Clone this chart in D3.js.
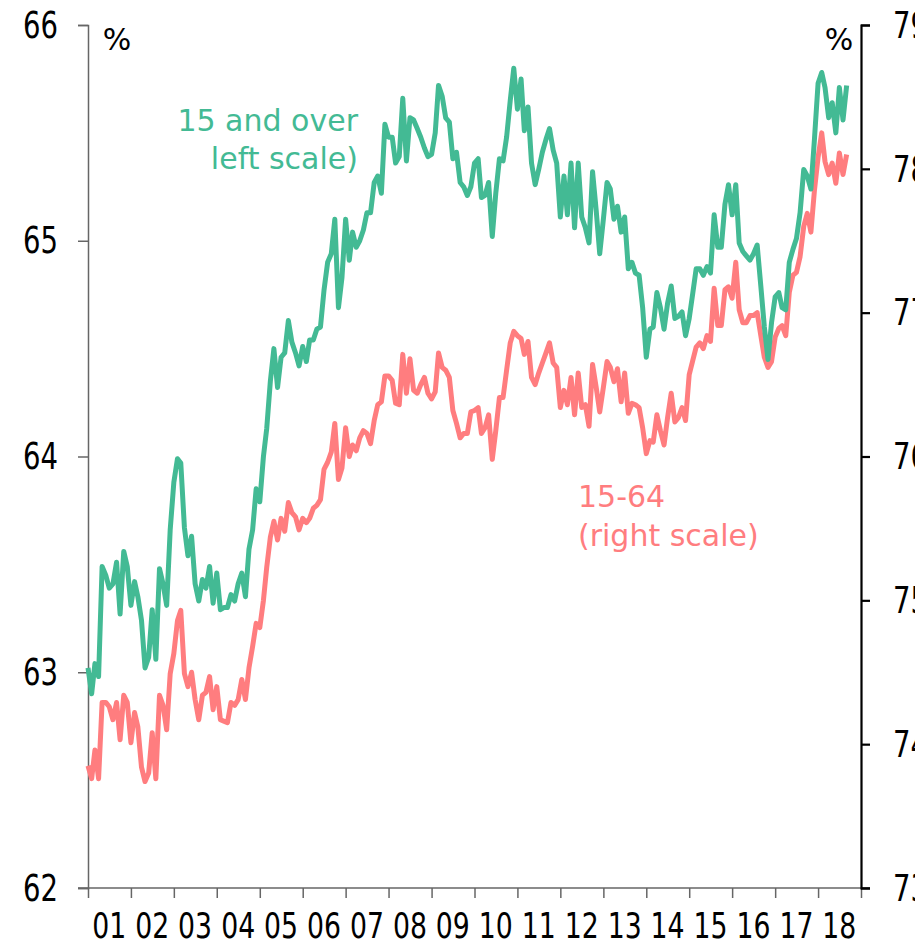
<!DOCTYPE html>
<html>
<head>
<meta charset="utf-8">
<script src="https://cdn.jsdelivr.net/npm/d3@7"></script>
<style>
  body { margin: 0; background: #fff; }
  svg { display: block; }
</style>
</head>
<body>
<div id="chart"></div>
<script>
// Employment rate, monthly from Jan 2001
var yearLabels = ["01", "02", "03", "04", "05", "06", "07", "08", "09",
  "10", "11", "12", "13", "14", "15", "16", "17", "18"];

// 15 and over (left scale, %)
var over15 = [
  63.02, 62.90, 63.04, 62.98, 63.49, 63.45, 63.39, 63.41, 63.51, 63.27, 63.56, 63.49,
  63.31, 63.42, 63.35, 63.24, 63.02, 63.07, 63.29, 63.06, 63.48, 63.41, 63.31, 63.66,
  63.88, 63.99, 63.97, 63.67, 63.54, 63.63, 63.41, 63.33, 63.43, 63.39, 63.49, 63.32,
  63.46, 63.29, 63.30, 63.30, 63.36, 63.33, 63.41, 63.46, 63.35, 63.57, 63.66, 63.85,
  63.79, 64.00, 64.13, 64.35, 64.50, 64.32, 64.46, 64.48, 64.63, 64.53, 64.48, 64.42,
  64.51, 64.44, 64.54, 64.54, 64.59, 64.60, 64.77, 64.90, 64.94, 65.10, 64.69, 64.83,
  65.10, 64.91, 65.04, 64.97, 65.00, 65.05, 65.13, 65.13, 65.27, 65.30, 65.22, 65.54,
  65.48, 65.48, 65.36, 65.39, 65.66, 65.37, 65.57, 65.56, 65.52, 65.48, 65.43, 65.39,
  65.40, 65.50, 65.72, 65.67, 65.57, 65.55, 65.38, 65.41, 65.27, 65.25, 65.21, 65.25,
  65.36, 65.38, 65.20, 65.21, 65.27, 65.02, 65.22, 65.38, 65.37, 65.48, 65.65, 65.80,
  65.61, 65.75, 65.51, 65.62, 65.36, 65.26, 65.33, 65.41, 65.47, 65.52, 65.42, 65.36,
  65.11, 65.30, 65.12, 65.36, 65.06, 65.36, 65.11, 65.06, 64.99, 65.32, 65.14, 64.94,
  65.10, 65.27, 65.24, 65.10, 65.16, 65.04, 65.11, 64.87, 64.90, 64.85, 64.84, 64.69,
  64.46, 64.59, 64.60, 64.76, 64.69, 64.59, 64.71, 64.79, 64.64, 64.65, 64.67, 64.56,
  64.64, 64.76, 64.87, 64.87, 64.84, 64.88, 64.85, 65.12, 64.97, 64.97, 65.17, 65.26,
  65.12, 65.26, 64.99, 64.95, 64.93, 64.91, 64.94, 64.98, 64.79, 64.60, 64.45, 64.62,
  64.74, 64.76, 64.69, 64.68, 64.90, 64.96, 65.01, 65.13, 65.33, 65.30, 65.24, 65.47,
  65.73, 65.78, 65.71, 65.57, 65.64, 65.50, 65.71, 65.56, 65.72
];

// 15-64 (right scale, %)
var age15to64 = [
  73.85, 73.76, 73.96, 73.76, 74.29, 74.29, 74.26, 74.17, 74.29, 74.03, 74.34, 74.29,
  74.01, 74.22, 74.12, 73.84, 73.74, 73.80, 74.08, 73.76, 74.34, 74.27, 74.10, 74.49,
  74.63, 74.86, 74.93, 74.49, 74.40, 74.50, 74.31, 74.17, 74.34, 74.36, 74.47, 74.24,
  74.40, 74.17, 74.16, 74.15, 74.29, 74.27, 74.31, 74.45, 74.31, 74.53, 74.68, 74.84,
  74.81, 75.00, 75.23, 75.44, 75.55, 75.42, 75.57, 75.48, 75.68, 75.61, 75.58, 75.49,
  75.57, 75.54, 75.57, 75.64, 75.66, 75.70, 75.91, 75.96, 76.03, 76.23, 75.84, 75.92,
  76.20, 76.00, 76.08, 76.04, 76.13, 76.18, 76.16, 76.09, 76.25, 76.36, 76.38, 76.56,
  76.56, 76.53, 76.37, 76.36, 76.71, 76.44, 76.68, 76.46, 76.44, 76.50, 76.55, 76.44,
  76.40, 76.45, 76.72, 76.62, 76.60, 76.55, 76.32, 76.23, 76.13, 76.16, 76.16, 76.31,
  76.32, 76.34, 76.16, 76.20, 76.29, 75.98, 76.18, 76.41, 76.41, 76.60, 76.79, 76.87,
  76.84, 76.82, 76.71, 76.80, 76.55, 76.50, 76.58, 76.65, 76.72, 76.79, 76.65, 76.62,
  76.34, 76.46, 76.36, 76.55, 76.29, 76.58, 76.34, 76.36, 76.21, 76.64, 76.48, 76.31,
  76.48, 76.66, 76.62, 76.52, 76.61, 76.38, 76.58, 76.30, 76.37, 76.36, 76.34, 76.20,
  76.02, 76.11, 76.10, 76.29, 76.18, 76.08, 76.27, 76.44, 76.24, 76.27, 76.34, 76.25,
  76.57, 76.67, 76.76, 76.79, 76.75, 76.84, 76.80, 77.17, 76.91, 76.91, 77.16, 77.18,
  77.10, 77.35, 77.02, 76.93, 76.93, 76.98, 76.98, 77.00, 76.84, 76.69, 76.62, 76.66,
  76.83, 76.89, 76.91, 76.84, 77.14, 77.26, 77.28, 77.39, 77.60, 77.69, 77.56, 77.85,
  78.08, 78.25, 78.05, 77.96, 78.04, 77.90, 78.11, 77.96, 78.10
];

var leftTicks = [62, 63, 64, 65, 66];
var rightTicks = [73, 74, 75, 76, 77, 78, 79];

var width = 915;
var height = 947;
var green = "#43ba94";
var pink = "#ff7d7f";
var tickFont = "'DejaVu Sans', sans-serif";
var labelFont = "'DejaVu Sans', sans-serif";

var svg = d3.select("#chart")
  .append("svg")
  .attr("width", width)
  .attr("height", height);

var x = d3.scaleTime()
  .domain([new Date(2001, 0, 1), new Date(2019, 0, 1)])
  .range([88, 861]);

var yLeft = d3.scaleLinear().domain([62, 66]).range([888, 25]);
var yRight = d3.scaleLinear().domain([73, 79]).range([888, 25]);

function toPoints(values) {
  return values.map(function (v, i) {
    return { date: new Date(2001, i, 1), value: v };
  });
}

// Axes
var bottomAxis = svg.append("g")
  .attr("transform", "translate(0,888)")
  .call(d3.axisBottom(x)
    .tickValues(d3.range(2001, 2020).map(function (yr) { return new Date(yr, 0, 1); }))
    .tickSize(10)
    .tickFormat(""));
bottomAxis.select(".domain").attr("d", "M78,0H870");

var leftAxis = svg.append("g")
  .attr("transform", "translate(88,0)")
  .call(d3.axisLeft(yLeft).tickValues(leftTicks).tickFormat(d3.format("d"))
    .tickSize(10).tickPadding(20));

var rightAxis = svg.append("g")
  .attr("transform", "translate(861,0)")
  .call(d3.axisRight(yRight).tickValues(rightTicks).tickFormat(d3.format("d"))
    .tickSize(9).tickPadding(23));

[bottomAxis, leftAxis].forEach(function (ax) {
  ax.selectAll("path, line").attr("stroke", "#666").attr("stroke-width", 1.5);
});
rightAxis.selectAll("path, line").attr("stroke", "#000").attr("stroke-width", 2.2);

// condensed digits, like the original's narrow face
svg.selectAll(".tick text")
  .style("font-family", tickFont)
  .style("font-size", "38px")
  .attr("textLength", 35)
  .attr("lengthAdjust", "spacingAndGlyphs")
  .attr("fill", "#000");

// Year labels centred in each year
svg.append("g")
  .selectAll("text")
  .data(yearLabels)
  .join("text")
  .attr("x", function (d, i) { return x(new Date(2001 + i, 6, 1)) - 17; })
  .attr("y", 938)
  .attr("textLength", 34)
  .attr("lengthAdjust", "spacingAndGlyphs")
  .style("font-family", tickFont)
  .style("font-size", "36px")
  .text(function (d) { return d; });

// Lines
var line = function (scale) {
  return d3.line()
    .x(function (d) { return x(d.date); })
    .y(function (d) { return scale(d.value); });
};

svg.append("path")
  .datum(toPoints(age15to64))
  .attr("fill", "none")
  .attr("stroke", pink)
  .attr("stroke-width", 5)
  .attr("stroke-linejoin", "round")
  .attr("d", line(yRight));

svg.append("path")
  .datum(toPoints(over15))
  .attr("fill", "none")
  .attr("stroke", green)
  .attr("stroke-width", 5)
  .attr("stroke-linejoin", "round")
  .attr("d", line(yLeft));

// Unit labels
svg.append("text").attr("x", 117).attr("y", 50).attr("text-anchor", "middle")
  .style("font-family", tickFont).style("font-size", "30px").text("%");
svg.append("text").attr("x", 839).attr("y", 50).attr("text-anchor", "middle")
  .style("font-family", tickFont).style("font-size", "30px").text("%");

// Series annotations
svg.append("text").attr("x", 358).attr("y", 131).attr("text-anchor", "end")
  .attr("fill", green).style("font-family", labelFont).style("font-size", "30px")
  .text("15 and over");
svg.append("text").attr("x", 358).attr("y", 169).attr("text-anchor", "end")
  .attr("fill", green).style("font-family", labelFont).style("font-size", "30px")
  .text("left scale)");

svg.append("text").attr("x", 578).attr("y", 507)
  .attr("fill", pink).style("font-family", labelFont).style("font-size", "30px")
  .text("15-64");
svg.append("text").attr("x", 578).attr("y", 546)
  .attr("fill", pink).style("font-family", labelFont).style("font-size", "30px")
  .text("(right scale)");
</script>
</body>
</html>
